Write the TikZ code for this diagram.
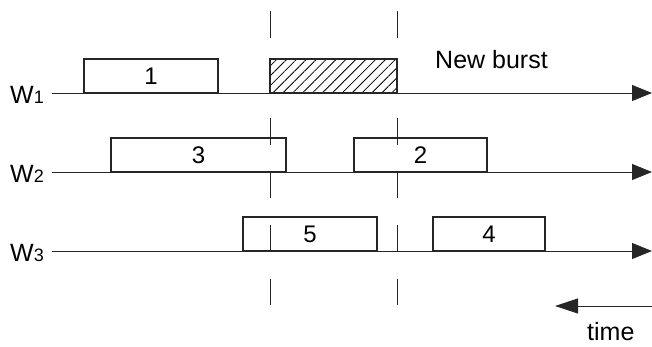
\documentclass[tikz,border=0pt]{standalone}
\usepackage{fontspec}
\setmainfont{Liberation Sans}
\usetikzlibrary{arrows.meta,patterns.meta}
\begin{document}
\begin{tikzpicture}[x=1pt,y=-1pt,
  txt/.style={font=\fontsize{25}{30}\selectfont, inner sep=0pt},
  burst/.style={draw=black!85, line width=1.1pt, fill=white, inner sep=0pt, outer sep=0pt, anchor=south west, font=\fontsize{24}{28}\selectfont},
  hatched/.style={burst, fill=none, pattern={Lines[angle=45,distance=7pt,line width=0.8pt]}, pattern color=black},
  axis/.style={draw=black!85, line width=0.9pt, -{Triangle[length=20pt,width=16pt]}},
  guide/.style={draw=black!85, line width=1pt, dash pattern=on 26.5pt off 27pt}]
\useasboundingbox (0,0) rectangle (652,346);
% axes
\coordinate (a1s) at (52,93);  \coordinate (a1e) at (652,93);
\coordinate (a2s) at (52,172); \coordinate (a2e) at (652,172);
\coordinate (a3s) at (52,251); \coordinate (a3e) at (652,251);
\draw[axis] (a1s) -- (a1e);
\draw[axis] (a2s) -- (a2e);
\draw[axis] (a3s) -- (a3e);
% boxes
\node[burst, minimum width=134pt, minimum height=34pt] (b1) at (84,93) {1};
\node[hatched, minimum width=127pt, minimum height=34pt] (bn) at (270,93) {};
\node[burst, minimum width=175pt, minimum height=34pt] (b3) at (111,172) {3};
\node[burst, minimum width=133pt, minimum height=34pt] (b2) at (354,172) {2};
\node[burst, minimum width=134pt, minimum height=34pt] (b5) at (243,251) {5};
\node[burst, minimum width=112pt, minimum height=34pt] (b4) at (433,251) {4};
% dashed guides
\coordinate (g1t) at (270,11); \coordinate (g1b) at (270,305);
\coordinate (g2t) at (397,11); \coordinate (g2b) at (397,305);
\draw[guide] (g1t) -- (g1b);
\draw[guide] (g2t) -- (g2b);
% labels
\node[txt, anchor=base west] (w1) at (10,103) {W{\fontsize{18}{20}\selectfont 1}};
\node[txt, anchor=base west] (w2) at (10,182) {W{\fontsize{18}{20}\selectfont 2}};
\node[txt, anchor=base west] (w3) at (10,261) {W{\fontsize{18}{20}\selectfont 3}};
\node[txt, anchor=base west] (nb) at (435,68) {New burst};
% time arrow
\coordinate (ts) at (652,306); \coordinate (te) at (555,306);
\draw[axis, -{Triangle[length=23pt,width=15pt]}] (ts) -- (te);
\node[txt, anchor=base west] (time) at (587,340) {time};
\end{tikzpicture}
\end{document}
